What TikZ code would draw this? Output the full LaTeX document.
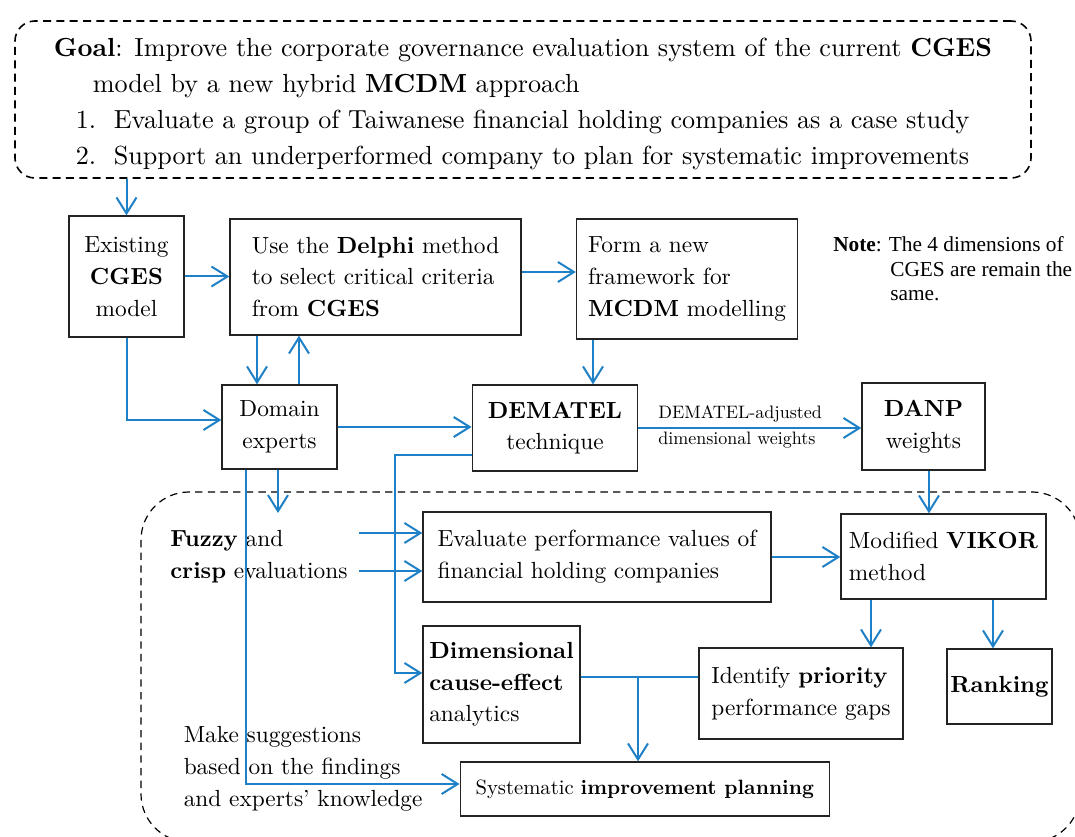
\documentclass[tikz,border=0pt]{standalone}
\usepackage{fontspec}
\setmainfont{lmroman10}[Extension=.otf, UprightFont=*-regular, BoldFont=*-bold, ItalicFont=*-italic, BoldItalicFont=*-bolditalic]
\newfontfamily\notefont{Liberation Serif}
\usetikzlibrary{arrows.meta,calc}
\definecolor{arrblue}{RGB}{30,128,198}
\definecolor{boxline}{RGB}{35,35,35}
\begin{document}
\begin{tikzpicture}[x=0.75pt,y=-0.75pt,
  box/.style={draw=boxline, line width=1pt, inner sep=0pt, align=left, font=\fontsize{17.5}{23.8}\selectfont},
  cbox/.style={box, align=center},
  goalbox/.style={draw=black, line width=1.2pt, dash pattern=on 6pt off 4pt, rounded corners=15pt, inner sep=0pt, align=left, font=\fontsize{19.6}{26.8}\selectfont},
  arr/.style={draw=arrblue, line width=1.5pt, -{Straight Barb[length=12pt,width=15pt]}},
  ln/.style={draw=arrblue, line width=1.5pt},
  txt/.style={inner sep=0pt, align=left, font=\fontsize{17.5}{23.8}\selectfont}]
\useasboundingbox (0,0) rectangle (1075,837);
\clip (0,0) rectangle (1075,837);
\fill[white] (0,0) rectangle (1075,837);

% lower dashed region
\draw[black, line width=0.9pt, dash pattern=on 5.5pt off 4pt, rounded corners=36pt] (141,492) rectangle (1080,842);

% goal
\node[goalbox, minimum width=762pt, minimum height=117.75pt] (goal) at (523,99.5)
 {\rule{0pt}{1.05em}\textbf{Goal}: Improve the corporate governance evaluation system of the current \textbf{CGES}\\
  \hspace*{29.25pt}model by a new hybrid \textbf{MCDM} approach\\
  \hspace*{16.5pt}\makebox[28.5pt][l]{1.}Evaluate a group of Taiwanese financial holding companies as a case study\\
  \hspace*{16.5pt}\makebox[28.5pt][l]{2.}Support an underperformed company to plan for systematic improvements};

% boxes
\node[cbox, minimum width=86.25pt, minimum height=90.75pt] (existing) at (126.5,276.5) {Existing\\\textbf{CGES}\\model};
\node[box, minimum width=218.25pt, minimum height=87pt] (delphi) at (375.5,277) {Use the \textbf{Delphi} method\\to select critical criteria\\from \textbf{CGES}};
\node[box, minimum width=165.75pt, minimum height=90pt] (form) at (687,279) {Form a new\\framework for\\\textbf{MCDM} modelling};
\node[cbox, minimum width=86.25pt, minimum height=63pt] (domain) at (279.5,427) {Domain\\experts};
\node[cbox, minimum width=124.1pt, minimum height=64.5pt] (dematel) at (555,428) {\textbf{DEMATEL}\\technique};
\node[cbox, minimum width=92.25pt, minimum height=65.25pt] (danp) at (923.5,426.5) {\textbf{DANP}\\weights};
\node[box, minimum width=261pt, minimum height=67.5pt] (evaluate) at (597,557) {Evaluate performance values of\\financial holding companies};
\node[box, minimum width=153.75pt, minimum height=63.75pt] (vikor) at (943.5,556.5) {Modified \textbf{VIKOR}\\method};
\node[box, minimum width=117.75pt, minimum height=87.75pt] (dimensional) at (501.5,684.5) {\textbf{Dimensional}\\\textbf{cause-effect}\\analytics};
\node[box, minimum width=153pt, minimum height=68.25pt] (identify) at (801,693.5) {Identify \textbf{priority}\\performance gaps};
\node[cbox, minimum width=78.75pt, minimum height=56.25pt] (ranking) at (999.5,686.5) {\textbf{Ranking}};
\node[cbox, minimum width=276.75pt, minimum height=40.5pt, font=\fontsize{15.5}{20}\selectfont] (systematic) at (644.7,789) {Systematic \textbf{improvement planning}};

% free texts
\node[inner sep=0pt, align=left, anchor=west, font=\notefont\fontsize{16}{18.4}\selectfont] (note) at (833,269)
 {\textbf{Note}: The 4 dimensions of\\\hspace*{42.75pt}CGES are remain the\\\hspace*{42.75pt}same.};
\node[inner sep=0pt, align=left, anchor=west, font=\fontsize{13.5}{20}\selectfont] (lbl) at (658,427) {DEMATEL-adjusted\\dimensional weights};
\node[txt, anchor=west] (fuzzy) at (170,557) {\textbf{Fuzzy} and\\\textbf{crisp} evaluations};
\node[txt, anchor=west] (make) at (183.5,769) {Make suggestions\\based on the findings\\and experts’ knowledge};

% coordinates
\coordinate (fztip) at (278,513);
\coordinate (fz1) at (359,533);
\coordinate (fz2) at (359,571);
\coordinate (jn) at (638,677);

% connectors
\draw[arr] (goal.south -| existing.north) -- (existing.north);
\draw[arr] (existing.east) -- (existing.east -| delphi.west);
\draw[arr] (delphi.east |- 0,272) -- (form.west |- 0,272);
\draw[arr] (257,0 |- delphi.south) -- (257,0 |- domain.north);
\draw[arr] (299,0 |- domain.north) -- (299,0 |- delphi.south);
\draw[arr] (existing.south) |- (domain.west |- 0,420);
\draw[arr] (domain.east) -- (domain.east -| dematel.west);
\draw[arr] (593,0 |- form.south) -- (593,0 |- dematel.north);
\draw[arr] (dematel.east) -- (dematel.east -| danp.west);
\draw[arr] (929,0 |- danp.south) -- (929,0 |- vikor.north);
\draw[arr] (dematel.west |- 0,455) -| (395,673) -- (dimensional.west |- 0,673);
\draw[arr] (246,0 |- domain.south) |- (systematic.west |- 0,784);
\draw[arr] (278,0 |- domain.south) -- (fztip);
\draw[arr] (fz1) -- (fz1 -| evaluate.west);
\draw[arr] (fz2) -- (fz2 -| evaluate.west);
\draw[arr] (evaluate.east) -- (evaluate.east -| vikor.west);
\draw[arr] (871,0 |- vikor.south) -- (871,0 |- identify.north);
\draw[arr] (993,0 |- vikor.south) -- (993,0 |- ranking.north);
\draw[ln] (dimensional.east |- jn) -- (identify.west |- jn);
\draw[arr] (jn) -- (jn |- systematic.north);
\end{tikzpicture}
\end{document}
